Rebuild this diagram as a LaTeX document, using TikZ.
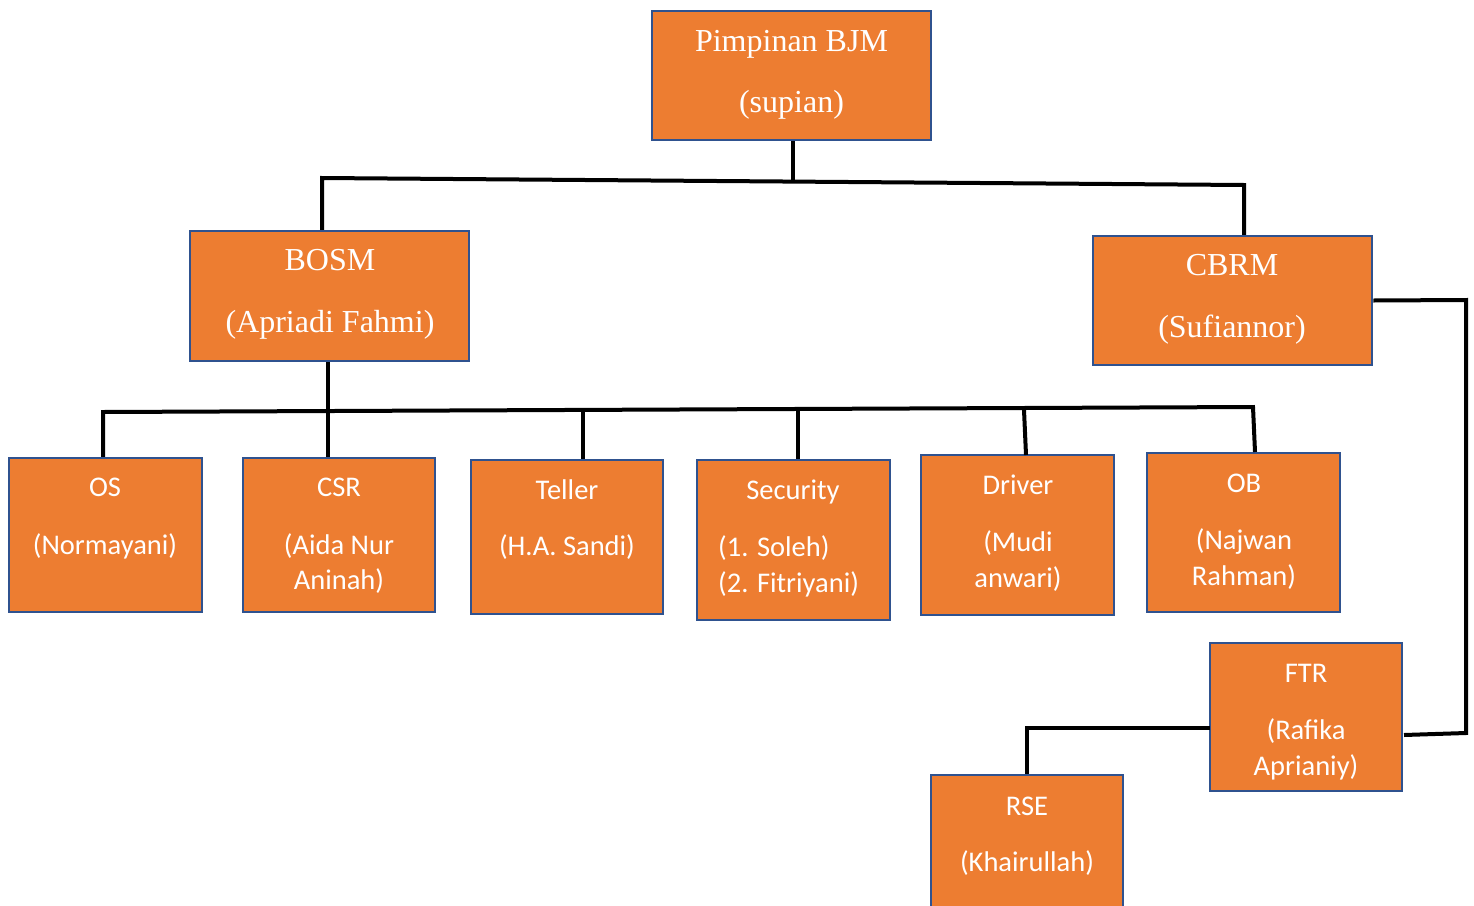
\documentclass[tikz,border=0pt]{standalone}
\usepackage{fontspec}
\setmainfont{Liberation Serif}
\newfontfamily\calib{Carlito}
\definecolor{boxfill}{RGB}{237,125,49}
\definecolor{boxline}{RGB}{47,82,143}
\begin{document}
\begin{tikzpicture}[x=1pt,y=-1pt,
  box/.style={draw=boxline,line width=2.5pt,fill=boxfill,rectangle,inner sep=0pt},
  conn/.style={draw=black,line width=4pt,line cap=rect,line join=miter},
  ser/.style={text=white,anchor=base,inner sep=0pt,font=\fontsize{32}{38}\selectfont},
  san/.style={text=white,anchor=base,inner sep=0pt,font=\calib\fontsize{28.5}{34}\selectfont}]
\useasboundingbox (0,0) rectangle (1474,905);

% boxes
\node[box,minimum width=279pt,minimum height=129pt] (pim) at (791.5,75.5) {};
\node[box,minimum width=279pt,minimum height=130pt] (bosm) at (329.5,296) {};
\node[box,minimum width=279pt,minimum height=129pt] (cbrm) at (1232.5,300.5) {};
\node[box,minimum width=193pt,minimum height=154pt] (os) at (105.5,535) {};
\node[box,minimum width=192pt,minimum height=154pt] (csr) at (339,535) {};
\node[box,minimum width=192pt,minimum height=154pt] (tel) at (567,537) {};
\node[box,minimum width=193pt,minimum height=160pt] (sec) at (793.5,540) {};
\node[box,minimum width=193pt,minimum height=160pt] (drv) at (1017.5,535) {};
\node[box,minimum width=193pt,minimum height=159pt] (ob) at (1243.5,532.5) {};
\node[box,minimum width=192pt,minimum height=148pt] (ftr) at (1306,717) {};
\node[box,minimum width=192pt,minimum height=150pt] (rse) at (1027,850) {};

% texts
\node[ser] (pimA) at (791.5,51.5) {Pimpinan BJM};
\node[ser] (pimB) at (791.5,112.5) {(supian)};
\node[ser] (bosmA) at (330,270.5) {BOSM};
\node[ser] (bosmB) at (330,332.5) {(Apriadi Fahmi)};
\node[ser] (cbrmA) at (1232,275.5) {CBRM};
\node[ser] (cbrmB) at (1232,337.5) {(Sufiannor)};

\node[san] (osA) at (105,496) {OS};
\node[san] (osB) at (105,554) {(Normayani)};
\node[san] (csrA) at (339,496) {CSR};
\node[san] (csrB) at (339,554) {(Aida Nur};
\node[san] (csrC) at (339,589) {Aninah)};
\node[san] (telA) at (567,499) {Teller};
\node[san] (telB) at (567,555) {(H.A. Sandi)};
\node[san] (secA) at (793,499) {Security};
\node[san,anchor=base west] (secB) at (718,556) {(1. Soleh)};
\node[san,anchor=base west] (secC) at (718,592) {(2. Fitriyani)};
\node[san] (drvA) at (1018,494) {Driver};
\node[san] (drvB) at (1018,551) {(Mudi};
\node[san] (drvC) at (1018,587) {anwari)};
\node[san] (obA) at (1244,492) {OB};
\node[san] (obB) at (1244,549) {(Najwan};
\node[san] (obC) at (1244,585) {Rahman)};
\node[san] (ftrA) at (1306,682) {FTR};
\node[san] (ftrB) at (1306,739) {(Rafika};
\node[san] (ftrC) at (1306,775) {Aprianiy)};
\node[san] (rseA) at (1027,815) {RSE};
\node[san] (rseB) at (1027,871) {(Khairullah)};

% junction coordinates
\coordinate (hM) at (793,180);
\coordinate (hL) at (322,178);
\coordinate (hR) at (1244,185);
\coordinate (gL) at (103,412);
\coordinate (gR) at (1253,407);
\coordinate (gB) at (328,411);
\coordinate (gT) at (583,408);
\coordinate (gS) at (798,409);
\coordinate (gD) at (1024,410);
\coordinate (rA) at (1466,300);
\coordinate (rB) at (1466,733);
\coordinate (rC) at (1404,735);
\coordinate (fA) at (1210,728);
\coordinate (fB) at (1027,728);

% connectors
\draw[conn,line cap=butt] (pim.south -| hM) -- (hM);
\draw[conn,line cap=butt] (bosm.north -| hL) -- (hL) -- (hR) -- (hR |- cbrm.north);
\draw[conn,line cap=butt] (bosm.south -| gB) -- (csr.north -| gB);
\draw[conn,line cap=butt] (os.north -| gL) -- (gL) -- (gR) -- (1255,452);
\draw[conn,line cap=butt] (gT) -- (tel.north -| gT);
\draw[conn,line cap=butt] (gS) -- (sec.north -| gS);
\draw[conn,line cap=butt] (gD) -- (1026,455);
\draw[conn,line cap=butt] (cbrm.east) -- (rA) -- (rB) -- (rC);
\draw[conn,line cap=butt] (fA) -- (fB) -- (rse.north);
\end{tikzpicture}
\end{document}
